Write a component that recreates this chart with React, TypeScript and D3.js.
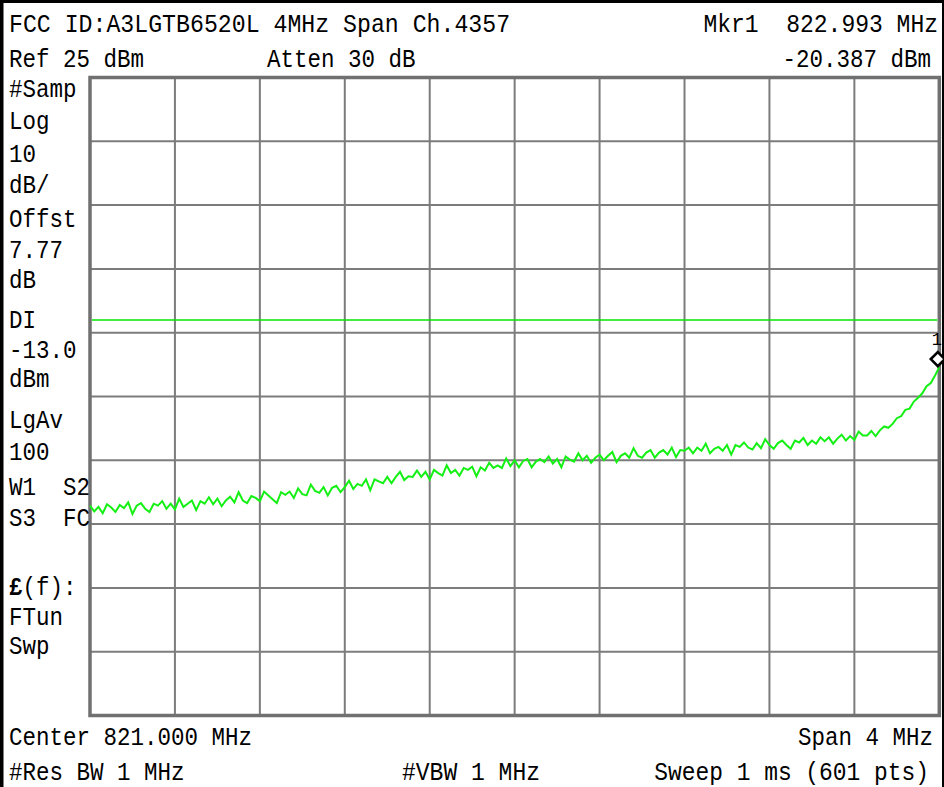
import React from "react";
import * as d3 from "d3";

// ---- data ----
const startFreqMHz = 819;
const stopFreqMHz = 823;
const refLevelDbm = 25;
const dbPerDiv = 10;
const displayLineDbm = -13;
const markerFreqMHz = 822.993;
const markerDbm = -20.387;

// trace (dBm), 201 points evenly spaced across the 4 MHz span
const traceDbm = [
  -42.1, -43.0, -42.3, -43.3, -41.9, -42.4, -43.1, -42.0, -42.5, -41.6,
  -43.4, -42.1, -41.7, -42.6, -43.1, -41.8, -42.1, -41.4, -42.6, -41.8,
  -42.7, -41.0, -42.3, -41.8, -41.3, -42.8, -41.4, -41.8, -40.8, -41.9,
  -41.0, -42.2, -41.3, -40.7, -41.6, -40.0, -41.3, -41.7, -40.6, -40.9,
  -41.4, -39.9, -40.5, -41.1, -41.7, -40.0, -40.4, -39.9, -40.9, -39.4,
  -40.3, -40.5, -38.8, -39.8, -40.1, -39.2, -40.5, -39.3, -39.0, -40.0,
  -39.2, -38.2, -39.5, -38.7, -39.0, -38.0, -39.7, -38.0, -38.3, -38.6,
  -37.6, -38.6, -37.6, -36.8, -38.1, -37.5, -37.6, -36.6, -37.6, -36.8,
  -38.0, -36.5, -37.0, -37.4, -35.8, -37.0, -36.5, -37.4, -36.2, -36.5,
  -36.0, -37.5, -36.1, -36.6, -35.4, -36.2, -35.8, -36.2, -34.7, -35.9,
  -35.0, -36.1, -35.1, -34.8, -36.1, -35.2, -34.8, -35.3, -34.4, -35.5,
  -34.8, -36.1, -34.4, -34.9, -35.2, -33.9, -35.0, -34.3, -35.4, -34.6,
  -34.1, -35.0, -34.3, -33.7, -35.3, -34.3, -33.9, -34.6, -33.1, -34.3,
  -34.6, -33.8, -33.4, -34.6, -33.8, -33.4, -34.1, -33.0, -34.5, -33.4,
  -33.5, -33.0, -33.9, -33.0, -33.5, -32.4, -33.9, -33.2, -32.9, -33.5,
  -32.6, -34.1, -32.6, -32.9, -32.2, -33.0, -33.3, -32.3, -33.1, -31.7,
  -32.6, -33.2, -32.3, -31.9, -32.6, -33.2, -31.9, -32.2, -31.5, -32.6,
  -31.9, -32.4, -31.4, -32.0, -31.4, -32.4, -31.6, -31.0, -31.9, -31.2,
  -31.8, -30.5, -31.1, -31.1, -30.4, -31.2, -30.3, -29.7, -29.9, -29.3,
  -28.4, -28.1, -27.1, -26.9, -25.8, -25.2, -24.5, -23.4, -22.9, -21.7,
  -20.4,
];

const headerLeft = "FCC ID:A3LGTB6520L 4MHz Span Ch.4357";
const headerRight = "Mkr1  822.993 MHz";
const refText = "Ref 25 dBm";
const attenText = "Atten 30 dB";
const markerValueText = "-20.387 dBm";
const sideLabels = [
  "#Samp", "Log", "10", "dB/", "Offst", "7.77", "dB", "DI", "-13.0", "dBm",
  "LgAv", "100", "W1  S2", "S3  FC", "£(f):", "FTun", "Swp",
];
const sideBaselines = [97, 129, 162, 193, 227, 258, 288, 328, 358, 387, 428, 460, 495, 526, 595, 625, 654];
const footerCenter = "Center 821.000 MHz";
const footerSpan = "Span 4 MHz";
const footerRbw = "#Res BW 1 MHz";
const footerVbw = "#VBW 1 MHz";
const footerSweep = "Sweep 1 ms (601 pts)";

const W = 944;
const H = 787;
const plot = { left: 90, right: 939.3, top: 77.5, bottom: 715.5 };
const FONT = "'Liberation Mono', 'DejaVu Sans Mono', monospace";
const FS = 22.5;
const STRETCH = 1.13;

type TProps = { x: number; y: number; anchor?: "start" | "end" | "middle"; size?: number; children: React.ReactNode };
function T({ x, y, anchor = "start", size = FS, children }: TProps) {
  return (
    <text
      transform={`translate(${x},${y}) scale(1,${STRETCH})`}
      textAnchor={anchor}
      style={{ fontFamily: FONT, fontSize: size, fill: "#000", whiteSpace: "pre" }}
    >
      {children}
    </text>
  );
}

export default function App() {
  const bottomDbm = refLevelDbm - dbPerDiv * 10;
  const x = d3.scaleLinear().domain([startFreqMHz, stopFreqMHz]).range([plot.left, plot.right]);
  const y = d3.scaleLinear().domain([bottomDbm, refLevelDbm]).range([plot.bottom, plot.top]);
  const n = traceDbm.length;
  const freqAt = (i: number) => startFreqMHz + ((stopFreqMHz - startFreqMHz) * i) / (n - 1);
  const line = d3
    .line<number>()
    .x((_, i) => x(freqAt(i)))
    .y((d) => y(d));

  const xTicks = d3.range(1, 10).map((k) => startFreqMHz + ((stopFreqMHz - startFreqMHz) * k) / 10);
  const yTicks = d3.range(1, 10).map((k) => bottomDbm + dbPerDiv * k);

  const mx = x(markerFreqMHz);
  const my = y(markerDbm) - 8;
  const ds = 7;

  return (
    <svg
      width={W}
      height={H}
      viewBox={`0 0 ${W} ${H}`}
      style={{ position: "absolute", left: 0, top: 0, background: "#fff" }}
    >
      <rect x={0} y={0} width={W} height={H} fill="#fff" />
      {/* outer black frame */}
      <rect x={0} y={0} width={W} height={3} fill="#000" />
      <rect x={0} y={0} width={3.5} height={H} fill="#000" />
      <rect x={942} y={0} width={2} height={H} fill="#000" />

      {/* grid */}
      <g stroke="#7c7c7c" strokeWidth={2}>
        {xTicks.map((f, i) => (
          <line key={"vx" + i} x1={x(f)} x2={x(f)} y1={plot.top} y2={plot.bottom} />
        ))}
        {yTicks.map((v, i) => (
          <line key={"hy" + i} x1={plot.left} x2={plot.right} y1={y(v)} y2={y(v)} />
        ))}
      </g>
      <rect
        x={plot.left}
        y={plot.top}
        width={plot.right - plot.left}
        height={plot.bottom - plot.top}
        fill="none"
        stroke="#707070"
        strokeWidth={3.5}
      />

      {/* display line */}
      <line
        x1={plot.left + 2}
        x2={plot.right - 2}
        y1={y(displayLineDbm)}
        y2={y(displayLineDbm)}
        stroke="#00e600"
        strokeWidth={1.6}
      />

      {/* trace */}
      <path d={line(traceDbm) || ""} fill="none" stroke="#14f014" strokeWidth={2} strokeLinejoin="miter" />

      {/* marker */}
      <path
        d={`M${mx},${my - ds} L${mx + ds},${my} L${mx},${my + ds} L${mx - ds},${my} Z`}
        fill="#fff"
        stroke="#000"
        strokeWidth={2.6}
      />
      <T x={mx - 1} y={my - 14} anchor="middle" size={17}>
        1
      </T>

      {/* header text */}
      <T x={9} y={31.5} size={23.2}>{headerLeft}</T>
      <T x={938} y={31.5} anchor="end" size={23}>{headerRight}</T>
      <T x={9} y={67}>{refText}</T>
      <T x={267} y={67}>{attenText}</T>
      <T x={931} y={67} anchor="end">{markerValueText}</T>

      {/* side labels */}
      {sideLabels.map((s, i) =>
        s.startsWith("£") ? (
          <T key={"s" + i} x={9} y={sideBaselines[i]}>
            <tspan fontWeight="bold">£</tspan>
            {s.slice(1)}
          </T>
        ) : (
          <T key={"s" + i} x={9} y={sideBaselines[i]}>
            {s}
          </T>
        )
      )}

      {/* footer */}
      <T x={9} y={745}>{footerCenter}</T>
      <T x={933} y={745} anchor="end">{footerSpan}</T>
      <T x={9} y={780}>{footerRbw}</T>
      <T x={402} y={780} size={23}>{footerVbw}</T>
      <T x={929} y={780} anchor="end" size={22.9}>{footerSweep}</T>
    </svg>
  );
}
